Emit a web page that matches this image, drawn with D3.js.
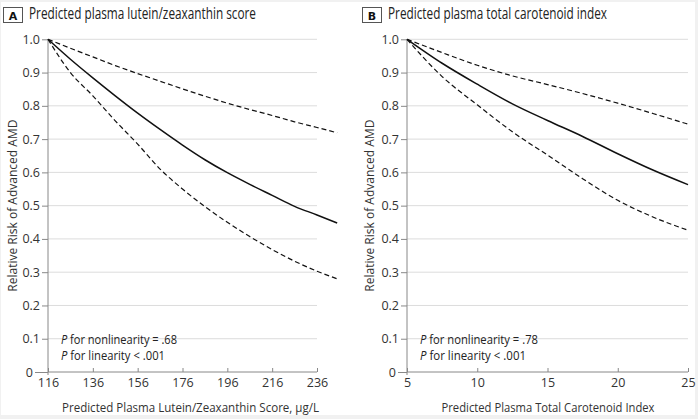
<!DOCTYPE html>
<html><head><meta charset="utf-8">
<script src="https://cdn.jsdelivr.net/npm/d3@7"></script>
<style>
html,body{margin:0;padding:0;background:#f1f1f1;}
svg{display:block;}
text{font-family:'Open Sans',sans-serif;fill:#333;}
</style></head>
<body><svg id="chart" width="698" height="419"></svg>
<script>
// ---- data ----
const yTickValues = [0,0.1,0.2,0.3,0.4,0.5,0.6,0.7,0.8,0.9,1.0];

const panelATitle = "Predicted plasma lutein/zeaxanthin score";
const panelAXLabel = "Predicted Plasma Lutein/Zeaxanthin Score, µg/L";
const panelATicks = [116,136,156,176,196,216,236];
const panelAX        = [116, 126,  136,  146,  156,  166,  176,  186,  196,  206,  216,  226,  236,  245];
const panelAEstimate = [1.0, 0.94, 0.884,0.83, 0.778,0.729,0.682,0.638,0.599,0.564,0.531,0.498,0.472,0.448];
const panelAUpper    = [1.0, 0.973,0.947,0.921,0.897,0.874,0.851,0.829,0.808,0.789,0.771,0.752,0.735,0.719];
const panelALower    = [1.0, 0.9,  0.83, 0.755,0.685,0.61, 0.55, 0.497,0.45, 0.407,0.368,0.333,0.303,0.28];
const panelANotes = ["nonlinearity = .68", "linearity < .001"];

const panelBTitle = "Predicted plasma total carotenoid index";
const panelBXLabel = "Predicted Plasma Total Carotenoid Index";
const panelBTicks = [5,10,15,20,25];
const panelBX        = [5,   7.5,  10,   12.5, 15,   17.5, 20,   22.5, 25];
const panelBEstimate = [1.0, 0.928,0.865,0.806,0.756,0.708,0.656,0.607,0.563];
const panelBUpper    = [1.0, 0.96, 0.922,0.89, 0.864,0.837,0.808,0.777,0.745];
const panelBLower    = [1.0, 0.888,0.803,0.722,0.652,0.581,0.516,0.466,0.426];
const panelBNotes = ["nonlinearity = .78", "linearity < .001"];

const yLabel = "Relative Risk of Advanced AMD";

// ---- drawing ----
const svg = d3.select("#chart");
svg.append("rect").attr("x",1).attr("y",2).attr("width",694).attr("height",413).attr("fill","#fff");

function fit(sel, w){ return sel.attr("textLength", w).attr("lengthAdjust","spacingAndGlyphs"); }

function drawPanel(o){
  const g = svg.append("g");
  const x = d3.scaleLinear().domain(o.domain).range([o.left, o.right]);
  const y = d3.scaleLinear().domain([0,1]).range([372, 39.3]);

  // title box
  g.append("rect").attr("x",o.boxX+0.5).attr("y",7.5).attr("width",19).attr("height",15)
    .attr("fill","#fff").attr("stroke","#555").attr("stroke-width",1);
  g.append("text").attr("x",o.boxX+10).attr("y",19.5).attr("text-anchor","middle")
    .style("font-family","'DejaVu Sans',sans-serif").style("font-weight","bold").style("font-size","11px")
    .style("fill","#111").text(o.letter);
  fit(g.append("text").attr("x",o.boxX+26).attr("y",19).style("font-size","15.5px").style("fill","#222").text(o.title), o.titleW);

  // gridlines
  g.append("g").selectAll("line").data(yTickValues.filter(d=>d>0)).join("line")
    .attr("x1",o.left).attr("x2",o.right).attr("y1",d=>y(d)).attr("y2",d=>y(d))
    .attr("stroke","#dcdcdc").attr("stroke-width",1);

  // y axis
  const ya = g.append("g").attr("transform",`translate(${o.left},0)`)
    .call(d3.axisLeft(y).tickValues(yTickValues).tickSize(6).tickPadding(2)
      .tickFormat(d=> d===0 ? "0" : d3.format(".1f")(d)));
  ya.select(".domain").attr("stroke","#888").attr("d",`M0,${y(0)+3}V${y(1)}`);
  ya.selectAll(".tick line").attr("stroke","#888");
  ya.selectAll(".tick").filter(d=>d===0).select("line").attr("x2",-o.zeroTick);
  ya.selectAll(".tick").filter(d=>d===0).select("text").attr("x",-o.zeroTick-2);
  ya.selectAll(".tick text").style("font-size","12.5px").style("fill","#333").style("font-family","'Open Sans',sans-serif");

  // x axis
  const xa = g.append("g").attr("transform",`translate(0,${y(0)})`)
    .call(d3.axisBottom(x).tickValues(o.ticks).tickSize(-4).tickPadding(6).tickFormat(d3.format("d")));
  xa.select(".domain").attr("stroke","#888").attr("d",`M${o.left},0H${o.right}`);
  xa.selectAll(".tick line").attr("stroke","#888");
  xa.selectAll(".tick text").style("font-size","12.5px").style("fill","#333").style("font-family","'Open Sans',sans-serif");

  // axis titles
  fit(g.append("text").attr("x",o.xLabelX).attr("y",412).attr("text-anchor","middle")
    .style("font-size","13.5px").style("fill","#333").text(o.xLabel), o.xLabelW);
  fit(g.append("text").attr("transform",`translate(${o.yLabelX},${y(0.5)}) rotate(-90)`).attr("text-anchor","middle")
    .style("font-size","13.5px").style("fill","#333").text(yLabel), 172);

  // notes
  o.notes.forEach((t,i)=>{
    const tx = g.append("text").attr("x",o.left+13).attr("y",343.5+i*16).style("font-size","11.8px").style("fill","#222");
    tx.append("tspan").style("font-style","italic").text("P");
    tx.append("tspan").text(" for " + t);
    fit(tx, o.noteW[i]);
  });

  // lines
  const line = d3.line().x(d=>x(d[0])).y(d=>y(d[1])).curve(d3.curveMonotoneX);
  const mk = vals => o.xs.map((v,i)=>[v, vals[i]]);
  g.append("path").datum(mk(o.upper)).attr("d",line).attr("fill","none").attr("stroke","#111")
    .attr("stroke-width",1.2).attr("stroke-dasharray","5,3");
  g.append("path").datum(mk(o.lower)).attr("d",line).attr("fill","none").attr("stroke","#111")
    .attr("stroke-width",1.2).attr("stroke-dasharray","5,3");
  g.append("path").datum(mk(o.est)).attr("d",line).attr("fill","none").attr("stroke","#111")
    .attr("stroke-width",1.5);
}

drawPanel({letter:"A", title:panelATitle, titleW:227, xLabel:panelAXLabel, xLabelX:190.5, xLabelW:257, boxX:3, yLabelX:17, zeroTick:13,
  domain:[116,236], left:48, right:317, ticks:panelATicks, xs:panelAX, noteW:[116,104],
  est:panelAEstimate, upper:panelAUpper, lower:panelALower, notes:panelANotes});
drawPanel({letter:"B", title:panelBTitle, titleW:219, xLabel:panelBXLabel, xLabelX:548, xLabelW:213, boxX:362, yLabelX:374, zeroTick:9,
  domain:[5,25], left:407, right:688, ticks:panelBTicks, xs:panelBX, noteW:[118,106],
  est:panelBEstimate, upper:panelBUpper, lower:panelBLower, notes:panelBNotes});
</script></body></html>
